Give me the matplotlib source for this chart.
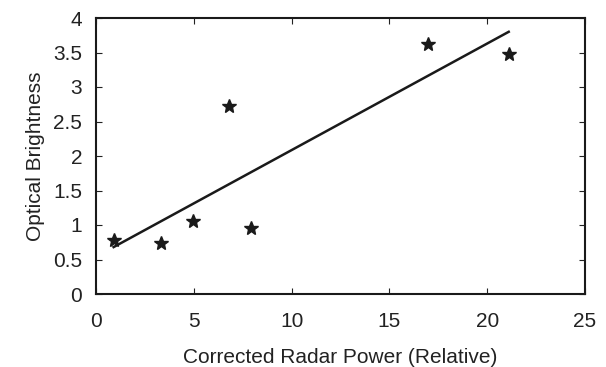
import matplotlib
matplotlib.use("Agg")
import matplotlib.pyplot as plt

plt.rcParams['font.family'] = ['Liberation Sans', 'DejaVu Sans']

radar_power = [0.9, 3.3, 4.95, 6.8, 7.9, 16.95, 21.1]
brightness = [0.78, 0.74, 1.06, 2.72, 0.95, 3.62, 3.48]
fit_x = [0.9, 21.1]
fit_y = [0.68, 3.80]

fig = plt.figure(figsize=(6.06, 3.67), dpi=100)
ax = fig.add_axes([96/606, 1-294/367, (585-96)/606, (294-18)/367])
ax.plot(fit_x, fit_y, color='#1a1a1a', lw=1.8)
ax.plot(radar_power, brightness, ls='none', marker='*', color='#1a1a1a', ms=10.5)
ax.set_xlim(0, 25)
ax.set_ylim(0, 4)
ax.set_xticks([0, 5, 10, 15, 20, 25])
ax.set_yticks([0, 0.5, 1, 1.5, 2, 2.5, 3, 3.5, 4])
ax.set_yticklabels(['0', '0.5', '1', '1.5', '2', '2.5', '3', '3.5', '4'])
ax.tick_params(direction='in', top=True, right=True, labelsize=15, length=4, width=0.8, colors='#222222')
ax.tick_params(axis='x', pad=13)
ax.tick_params(axis='y', pad=10)
for s in ax.spines.values():
    s.set_linewidth(1.5)
    s.set_color('#1a1a1a')
ax.set_xlabel('Corrected Radar Power (Relative)', fontsize=15, labelpad=12, color='#222222')
ax.set_ylabel('Optical Brightness', fontsize=15, labelpad=6, color='#222222')
fig.savefig('out.png', dpi=100)
